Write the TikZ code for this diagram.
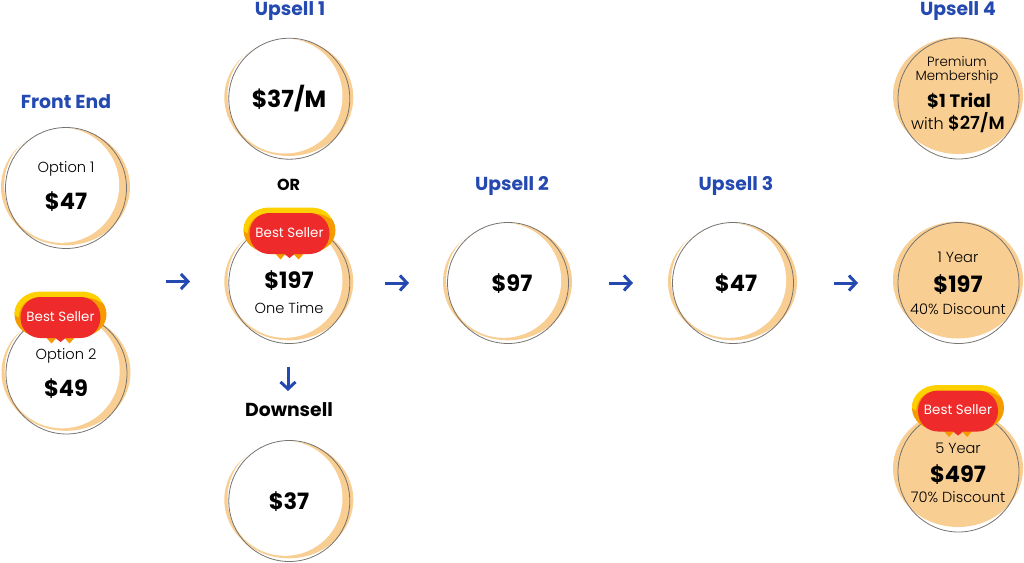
\documentclass[tikz,border=0pt]{standalone}
\usepackage{fontspec}
\setmainfont{Poppins}
\newfontfamily\lightf{Poppins Light}
\usetikzlibrary{arrows.meta}
\definecolor{peach}{HTML}{F9CE92}
\definecolor{headblue}{HTML}{2449B0}
\definecolor{ringgray}{HTML}{77736E}
\definecolor{badgered}{HTML}{EE2A2A}
\definecolor{badgeorange}{HTML}{F59B00}
\definecolor{badgeyellow}{HTML}{FFD000}
\tikzset{
  head/.style={font=\fontsize{18.8}{20}\selectfont\bfseries,text=headblue,inner sep=0,anchor=base},
  headk/.style={font=\fontsize{18.8}{20}\selectfont\bfseries,text=black,inner sep=0,anchor=base},
  price/.style={font=\fontsize{22.5}{24}\selectfont\bfseries,text=black,inner sep=0},
  small/.style={font=\lightf\fontsize{14.6}{15}\selectfont,text=black,inner sep=0,align=center},
  flowarrow/.style={draw=headblue,line width=3pt,-{Straight Barb[length=7pt,width=15pt,line width=3pt]}},
  ringline/.style={draw=ringgray,line width=.8pt},
  badgetext/.style={font=\fontsize{13.4}{14}\selectfont,text=white,inner sep=0},
}
\newcommand{\ring}[2]{%
  \fill[peach] (#1-.5,#2-1.2) ellipse[x radius=64.5,y radius=58.5];
  \fill[white] (#1-4.3,#2-2.7) circle[radius=57.5];
  \draw[ringline] (#1,#2) circle[radius=60.5];}
\newcommand{\solidring}[2]{%
  \fill[peach] (#1-.5,#2-3) ellipse[x radius=65,y radius=58.5];
  \draw[ringline] (#1,#2) circle[radius=60.5];}
% badge centred on the red blob
\newcommand{\badge}[3]{%
  \begin{scope}[shift={(#1,#2)}]
    \fill[badgeorange] (-17,17) -- (-9,26) -- (-1,17) -- cycle;
    \fill[badgeorange] (17,17) -- (9,26) -- (1,17) -- cycle;
    \fill[badgeorange] (-46,-3) .. controls (-46,-17) and (-34,-24) .. (-20,-24) -- (20,-24) .. controls (34,-24) and (46,-17) .. (46,-3) .. controls (46,10) and (34,19) .. (18,20) -- (-18,20) .. controls (-34,19) and (-46,10) .. (-46,-3) -- cycle;
    \fill[badgeyellow] (-46,-3) .. controls (-46,-17) and (-34,-26) .. (-20,-26) -- (20,-26) .. controls (32,-26) and (40,-21) .. (42,-14) .. controls (34,-20) and (28,-20) .. (20,-20) -- (-20,-20) .. controls (-34,-20) and (-41,-12) .. (-42,0) -- cycle;
    \fill[badgered] (-40,0) .. controls (-40,-12) and (-31,-20.5) .. (-20,-20.5) -- (20,-20.5) .. controls (31,-20.5) and (40,-12) .. (40,0) .. controls (40,12) and (31,20.5) .. (20,20.5) -- (5,20.5) -- (0,24.5) -- (-5,20.5) -- (-20,20.5) .. controls (-31,20.5) and (-40,12) .. (-40,0) -- cycle;
    \node[badgetext] (#3) at (0,-1) {Best Seller};
  \end{scope}}
\begin{document}
\begin{tikzpicture}[x=1pt,y=-1pt]
\useasboundingbox (0,0) rectangle (1024,562);

\node[head] (hfe) at (66,108.5) {Front End};
\node[head] (hu1) at (290,15.5) {Upsell 1};
\node[head] (hu2) at (512,190.5) {Upsell 2};
\node[head] (hu3) at (736,190.5) {Upsell 3};
\node[head] (hu4) at (958,15.5) {Upsell 4};
\node[headk,font=\fontsize{16}{18}\selectfont\bfseries] (hor) at (288.5,190) {OR};
\node[headk] (hds) at (289,416.5) {Downsell};

% Front end
\ring{66}{188}
\node[small] (o1) at (66,169) {Option 1};
\node[price] (p47a) at (66,201.5) {\$47};
\ring{66.5}{373.5}
\badge{60.5}{317.5}{b1}
\node[small] (o2) at (66,355.5) {Option 2};
\node[price] (p49) at (66,388.5) {\$49};

% Upsell 1
\ring{289.3}{98.7}
\node[price,font=\fontsize{23.5}{26}\selectfont\bfseries] (p37m) at (289,99) {\$37/M};
\ring{289.3}{283}
\badge{289.5}{233.5}{b2}
\node[price] (p197a) at (289,280.5) {\$197};
\node[small] (ot) at (289,308) {One Time};

% Downsell
\ring{289.3}{501}
\node[price] (p37) at (289,501.5) {\$37};

% Upsell 2, 3
\ring{508}{283}
\node[price] (p97) at (512,283.5) {\$97};
\ring{733}{283}
\node[price] (p47b) at (736,283.5) {\$47};

% Upsell 4
\solidring{958.5}{98.5}
\node[small,font=\lightf\fontsize{13.4}{14}\selectfont] (pm1) at (957,62) {Premium};
\node[small,font=\lightf\fontsize{13.4}{14}\selectfont] (pm2) at (957,77) {Membership};
\node[price,font=\fontsize{18}{20}\selectfont\bfseries] (tr) at (959,101.5) {\$1 Trial};
\node[small,font=\lightf\fontsize{16}{18}\selectfont] (w) at (958,123) {with {\fontsize{18}{20}\selectfont\bfseries \$27/M}};

\solidring{958.5}{283}
\node[small] (y1) at (958,257) {1 Year};
\node[price] (p197b) at (958,284.5) {\$197};
\node[small] (d40) at (958,309) {40\% Discount};

\solidring{958.5}{471.5}
\badge{958}{411}{b3}
\node[small] (y5) at (958,448) {5 Year};
\node[price] (p497) at (958,474.5) {\$497};
\node[small] (d70) at (958,497) {70\% Discount};

% arrows
\coordinate (a1s) at (166,281.5); \coordinate (a1e) at (190,281.5);
\coordinate (a2s) at (385,283); \coordinate (a2e) at (409,283);
\coordinate (a3s) at (609,283); \coordinate (a3e) at (633,283);
\coordinate (a4s) at (834,283); \coordinate (a4e) at (858,283);
\coordinate (a5s) at (288,367); \coordinate (a5e) at (288,391);
\draw[flowarrow] (a1s) -- (a1e);
\draw[flowarrow] (a2s) -- (a2e);
\draw[flowarrow] (a3s) -- (a3e);
\draw[flowarrow] (a4s) -- (a4e);
\draw[flowarrow] (a5s) -- (a5e);
\end{tikzpicture}
\end{document}
